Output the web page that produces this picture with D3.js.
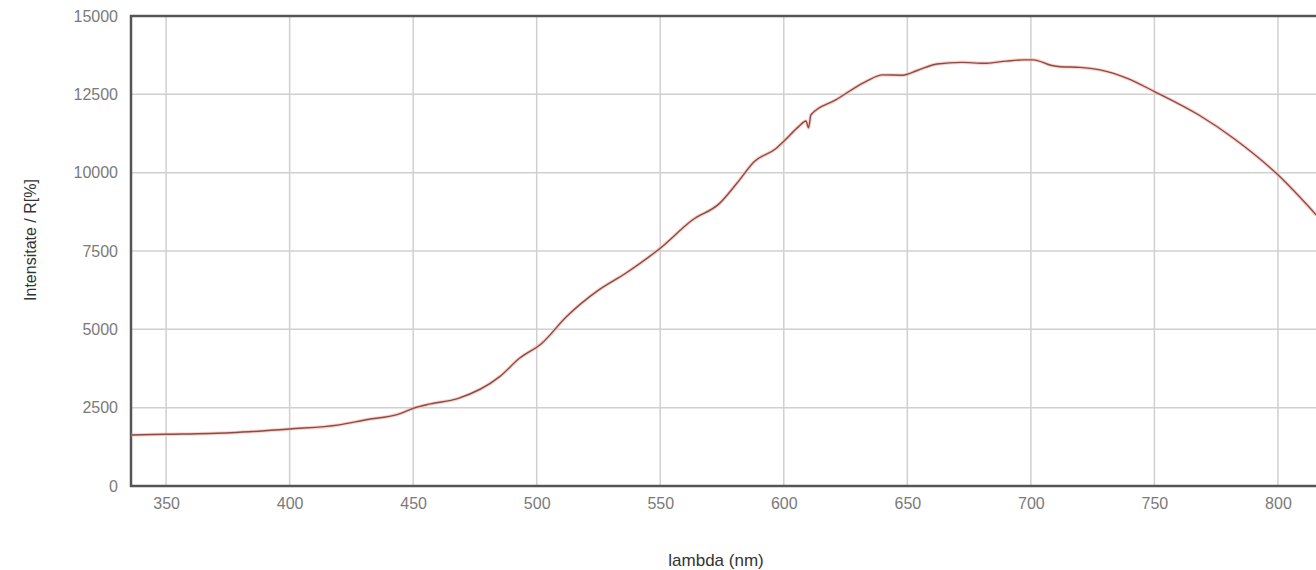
<!DOCTYPE html>
<html>
<head>
<meta charset="utf-8">
<script src="https://cdn.jsdelivr.net/npm/d3@7"></script>
<style>
  body { margin: 0; background: #fff; }
  .tick text { font-family: "Liberation Sans", Arial, sans-serif; }
</style>
</head>
<body>
<div id="chart"></div>
<script>
// wavelength (nm) and intensity
var lambda = [336, 350, 376, 400, 420, 430, 445, 450, 457, 468, 485, 493, 502, 512, 525, 536, 550, 563, 574, 581,
  588, 597, 600, 606, 609, 610, 611, 621, 633, 640, 648, 654, 662, 672, 681, 690, 697, 701, 708, 712, 720, 728, 739,
  750, 768, 782, 800, 815.5];
var intens = [1630, 1650, 1700, 1820, 1950, 2100, 2320, 2480, 2620, 2790, 3490, 4075, 4550, 5400, 6250, 6790, 7590, 8490, 9020, 9660,
  10350, 10780, 11000, 11470, 11650, 11430, 11850, 12320, 12900, 13120, 13110, 13260, 13470, 13520, 13490, 13560, 13600, 13600, 13430, 13380, 13360, 13280, 13010,
  12590, 11840, 11100, 9930, 8650];

var xTicks = [350, 400, 450, 500, 550, 600, 650, 700, 750, 800];
var yTicks = [0, 2500, 5000, 7500, 10000, 12500, 15000];

var W = 1316, H = 570;
var margin = {top: 16, right: 0, bottom: 84, left: 131};
var width = W - margin.left - margin.right,
    height = H - margin.top - margin.bottom;

var svg = d3.select("#chart").append("svg")
  .attr("width", W)
  .attr("height", H);

var g = svg.append("g")
  .attr("transform", "translate(" + margin.left + "," + margin.top + ")");

var x = d3.scaleLinear().domain([335.8, 815.4]).range([0, width]);
var y = d3.scaleLinear().domain([0, 15000]).range([height, 0]);

// grid
g.append("g")
  .selectAll("line.v")
  .data(xTicks)
  .enter().append("line")
    .attr("x1", d => x(d)).attr("x2", d => x(d))
    .attr("y1", 0).attr("y2", height)
    .style("stroke", "#d0d0d0").style("stroke-width", 1.5);

g.append("g")
  .selectAll("line.h")
  .data(yTicks)
  .enter().append("line")
    .attr("x1", 0).attr("x2", width)
    .attr("y1", d => y(d)).attr("y2", d => y(d))
    .style("stroke", "#d0d0d0").style("stroke-width", 1.5);

// axes (labels only)
var xAxis = g.append("g")
  .attr("transform", "translate(0," + height + ")")
  .call(d3.axisBottom(x).tickValues(xTicks).tickSize(0).tickPadding(12).tickFormat(d3.format("d")));
var yAxis = g.append("g")
  .call(d3.axisLeft(y).tickValues(yTicks).tickSize(0).tickPadding(13).tickFormat(d3.format("d")));

[xAxis, yAxis].forEach(function(a) {
  a.select(".domain").remove();
  a.selectAll("text").style("fill", "#7a7a7a").style("font-size", "16px");
});

// frame: left, top, bottom
g.append("path")
  .attr("d", "M" + width + ",0H0V" + height + "H" + width)
  .style("fill", "none")
  .style("stroke", "#555")
  .style("stroke-width", 2.5);

var data = lambda.map((d, i) => [d, intens[i]]);
var line = d3.line()
  .x(d => x(d[0]))
  .y(d => y(d[1]))
  .curve(d3.curveMonotoneX);

g.append("path")
  .datum(data)
  .attr("d", line)
  .style("fill", "none")
  .style("stroke", "#f3b4a8")
  .style("stroke-width", 3.5)
  .style("opacity", 0.6);

g.append("path")
  .datum(data)
  .attr("d", line)
  .style("fill", "none")
  .style("stroke", "#8e4a44")
  .style("stroke-width", 1.4);

svg.append("text")
  .attr("x", 716)
  .attr("y", 566)
  .attr("text-anchor", "middle")
  .style("font-family", "Liberation Sans, Arial, sans-serif")
  .style("font-size", "17px")
  .style("fill", "#333")
  .text("lambda (nm)");

svg.append("text")
  .attr("transform", "translate(36,240) rotate(-90)")
  .attr("text-anchor", "middle")
  .style("font-family", "Liberation Sans, Arial, sans-serif")
  .style("font-size", "16px")
  .style("fill", "#333")
  .text("Intensitate / R[%]");
</script>
</body>
</html>
